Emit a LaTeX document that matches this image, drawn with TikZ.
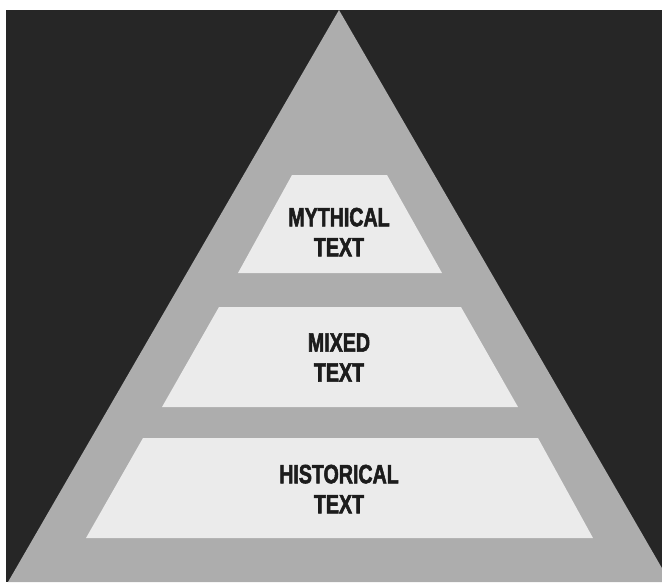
\documentclass[tikz,border=0pt]{standalone}
\usepackage{fontspec}
\newfontfamily\labelfont{Liberation Sans Bold}[FakeStretch=0.74, FakeBold=2]
\definecolor{bgdark}{HTML}{262626}
\definecolor{pyrgray}{HTML}{ADADAD}
\definecolor{tierfill}{HTML}{EBEBEB}
\definecolor{inkdark}{HTML}{1C1C1C}
\tikzset{
  tier/.style={fill=tierfill, draw=none},
  tierlabel/.style={inner sep=0pt, align=center, text=inkdark,
    font=\labelfont\fontsize{26.5}{30}\selectfont}
}
\begin{document}
\begin{tikzpicture}[x=1pt, y=-1pt]
  \useasboundingbox (0,0) rectangle (662,582);
  \clip (0,0) rectangle (662,582);
  % page and dark backdrop
  \fill[white] (0,0) rectangle (662,582);
  \fill[bgdark] (6,10) rectangle (662,582);
  % pyramid body
  \fill[pyrgray] (339,10) -- (670,582) -- (8,582) -- cycle;
  % three tiers
  \path[tier] (292,175) -- (387,175) -- (442,273) -- (238,273) -- cycle;
  \path[tier] (219,307) -- (461,307) -- (518,407) -- (162,407) -- cycle;
  \path[tier] (143,438) -- (538,438) -- (593,538) -- (86,538) -- cycle;
  % tier labels
  \node[tierlabel] (mythical) at (339,232) {MYTHICAL\\TEXT};
  \node[tierlabel] (mixed) at (339,357.5) {MIXED\\TEXT};
  \node[tierlabel] (historical) at (339,489) {HISTORICAL\\TEXT};
\end{tikzpicture}
\end{document}
